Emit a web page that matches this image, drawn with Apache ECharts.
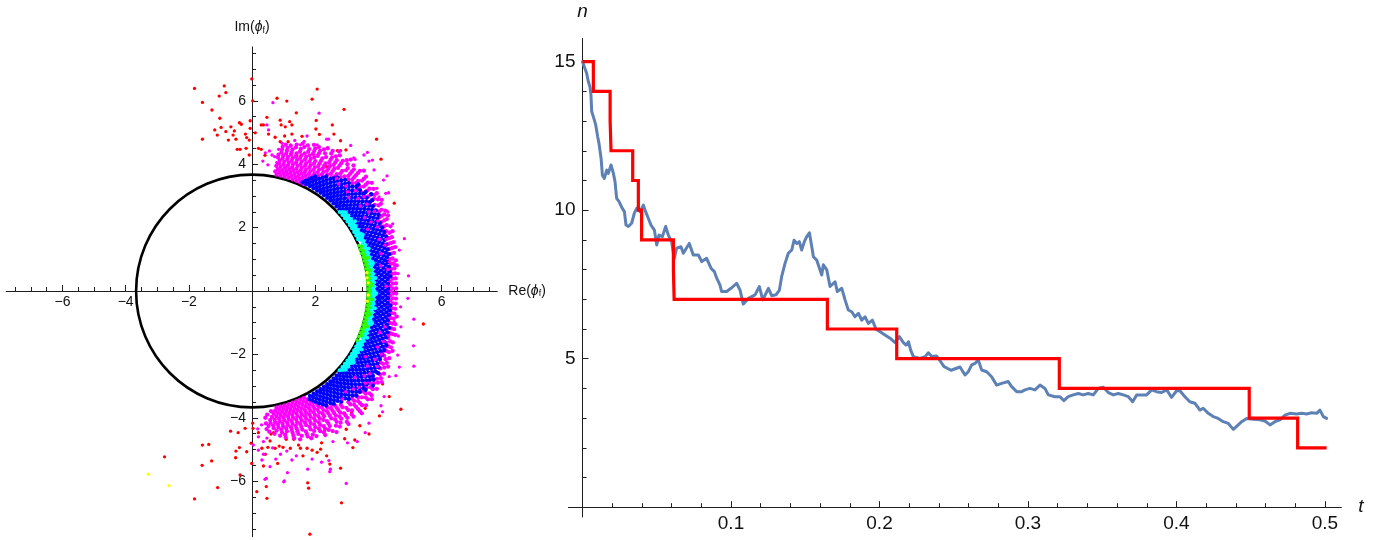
<!DOCTYPE html>
<html>
<head>
<meta charset="utf-8">
<script src="https://cdn.jsdelivr.net/npm/echarts@6/dist/echarts.min.js"></script>
<style>
  html, body { margin: 0; padding: 0; background: #ffffff; }
  #chart { width: 1383px; height: 540px; }
</style>
</head>
<body>
<div id="chart"></div>
<script>
// ---------- left panel: final phases in the complex plane ----------

const circleRadius = 3.67;

// isolated points, [Re, Im]
const redPoints = [
  [-1.57,5.95],[-0.88,6.47],[-0.83,6.26],[-1.04,6.15],[-0.01,6.69],[-1.27,5.71],[-1.02,5.45],[-1.57,4.79],
  [-1.18,5.08],[-1.1,4.92],[-0.98,5.16],[-0.83,5.03],[-0.67,5.18],[-0.56,5.05],[-0.4,5.31],[-0.34,5.26],
  [-0.21,4.95],[-0.17,4.84],[-0.09,4.76],[-0.06,5.37],[-0.06,5.13],[-0.47,4.47],[-0.38,4.47],[-0.19,4.5],
  [-0.09,4.29],[-0.75,4.76],[-0.51,4.79],[-0.6,4.92],[0.1,4.99],[0.29,5.24],[0.36,5.24],[0.47,5.48],
  [0.52,4.95],[0.2,4.5],[0.29,4.47],[0.41,4.28],[0.79,6.08],[1.1,5.99],[0.89,5.39],[0.92,5.24],
  [1.05,5.18],[1.19,5.34],[1.26,5.24],[1.4,5.62],[0.73,4.85],[0.89,4.71],[1.03,4.89],[1.14,4.71],
  [1.26,4.95],[1.9,6.05],[2.06,6.37],[2.03,5.38],[2.02,5.11],[2.13,4.94],[1.58,4.88],[1.42,4.26],
  [1.95,4.31],[2.54,5.24],[2.59,4.95],[2.91,5.73],[2.8,4.74],[2.7,4.43],[2.8,4.43],[2.97,4.45],
  [3.94,4.79],[4.08,4.16],[4.5,2.77],[3.37,3.19],[2.36,3.92],[2.09,4.31],[1.23,4.34],[-1.82,6.39],
  [0.02,6.0],[5.42,-1.04],
  [-1.57,-4.86],[-1.37,-4.84],[-1.28,-5.36],[-1.58,-5.5],[-1.09,-6.2],[-0.68,-4.42],[-0.51,-5.05],
  [-0.52,-5.26],[-0.4,-4.94],[-0.44,-4.47],[-0.22,-4.33],[-0.17,-5.07],[-0.03,-4.8],[0.02,-4.17],
  [0.03,-4.33],[-0.01,-5.44],[-0.38,-5.8],[0.15,-6.33],[0.47,-6.54],[0.45,-6.17],[0.36,-5.52],
  [0.2,-4.47],[0.31,-4.96],[0.42,-5.15],[0.5,-4.93],[0.57,-4.73],[0.6,-4.51],[0.68,-4.47],[0.81,-5.44],
  [0.73,-4.96],[0.86,-4.89],[0.98,-4.93],[1.08,-4.68],[1.21,-4.96],[1.32,-4.68],[1.47,-4.86],
  [1.53,-4.96],[1.61,-5.2],[1.74,-4.96],[1.76,-6.05],[1.79,-6.22],[1.83,-7.67],[1.9,-5.02],[2.06,-5.09],
  [2.17,-4.99],[2.2,-4.79],[2.36,-5.2],[2.46,-5.46],[2.3,-4.41],[2.8,-5.59],[2.83,-6.68],[2.93,-4.66],
  [2.98,-4.36],[3.19,-4.94],[3.25,-4.7],[3.41,-4.25],[3.7,-4.51],[3.58,-3.7],[3.15,-3.84],[2.93,-3.86],
  [4.03,-3.94],[4.34,-3.33],[4.71,-3.73],[4.13,-2.93],[-2.77,-5.23],[-1.82,-6.56]
];

const magentaPoints = [
  [0.66,5.94],[2.12,5.61],[2.36,4.79],[2.42,4.79],[1.74,4.89],[2.06,4.61],[0.47,5.24],[0.52,5.08],
  [0.34,4.1],[0.63,4.29],[0.95,4.66],[1.53,4.61],[3.54,4.29],[3.26,4.15],[3.81,4.13],[3.86,3.82],
  [4.16,3.5],[4.32,3.1],[4.23,3.08],[3.95,3.24],[4.02,2.97],[4.29,2.5],[3.7,4.1],[3.65,4.37],
  [3.12,4.59],[3.22,4.2],[4.27,3.63],[4.45,2.12],[4.82,1.65],[4.95,0.48],[4.34,1.82],[4.5,0.82],
  [4.55,0.24],[4.66,1.29],[1.21,4.61],[0.84,4.47],[0.71,4.24],[1.35,4.75],[0.55,4.42],[1.65,4.72],
  [0.5,3.98],[0.42,4.36],[0.78,4.05],
  [4.93,-0.23],[5.12,-0.89],[5.11,-1.73],[5.12,-2.37],[4.63,-1.42],[4.71,-1.13],[4.61,-2.02],
  [4.66,-2.4],[4.5,-0.97],[4.62,0.55],[4.7,-0.5],
  [0.04,-4.86],[0.31,-5.33],[0.45,-5.91],[0.57,-5.54],[1.02,-5.99],[1.12,-5.73],[1.26,-5.33],
  [1.76,-5.62],[2.46,-5.7],[2.98,-6.07],[2.56,-4.75],[3.02,-4.79],[3.33,-4.75],[3.58,-4.47],
  [3.7,-4.17],[4.08,-3.62],[4.13,-3.81],[4.34,-2.7],[4.55,-2.67],[0.36,-4.75],[0.2,-5.02],
  [1.0,-6.02],[0.41,-5.94],[4.18,-3.33],[2.43,-5.35],[2.48,-5.62],[0.2,-4.6],[0.47,-4.64],
  [0.36,-5.15],[0.65,-4.95],[0.9,-5.15],[1.1,-5.05],[0.75,-5.3],[1.4,-5.2],[1.9,-5.3],[2.2,-5.4],
  [0.3,-4.22],[0.18,-4.35]
];

const yellowPoints = [[-3.28,-5.78],[-2.63,-6.14]];

// dense crescent, written as rings: [radius, angles in degrees]
const magentaRings = [
  [3.75,[64,66,68,70,72,74,76,78,-64,-66,-68,-70,-72,-74,-76,-78]],
  [3.84,[63,65,67,69,71,73,75,77,79,-63,-65,-67,-69,-71,-73,-75,-77,-79,-81]],
  [3.93,[62,64,66,68,70,72,74,76,78,-62,-64,-66,-68,-70,-72,-74,-76,-78,-80,-83]],
  [4.02,[61,63,65,67,69,71,73,75,77,79,-61,-63,-65,-67,-69,-71,-73,-75,-77,-79,-81,-84]],
  [4.11,[60,62,64,66,68,70,72,74,76,78,-60,-62,-64,-66,-68,-70,-72,-74,-76,-78,-80,-82]],
  [4.2,[58,60,62,64,66,68,70,72,74,76,78,-58,-60,-62,-64,-66,-68,-70,-72,-74,-76,-78,-80,-82,-84]],
  [4.29,[-6,-3,0,3,6,57,59,61,63,65,67,69,71,73,75,77,79,-57,-59,-61,-63,-65,-67,-69,-71,-73,-75,-77,-79,-81,-83]],
  [4.38,[-12,-10,-8,-6,-4,-2,0,2,4,6,8,10,12,55,57,59,61,63,65,67,69,71,73,75,77,79,
         -55,-57,-59,-61,-63,-65,-67,-69,-71,-73,-75,-77,-79,-81,-84]],
  [4.47,[-19,-17,-15,-13,-11,-9,-7,-5,-3,-1,1,3,5,7,9,11,13,15,17,19,54,56,58,60,62,64,66,68,70,72,74,76,78,
         -54,-56,-58,-60,-62,-64,-66,-68,-70,-72,-74,-76,-78,-80,-83]],
  [4.56,[-27,-25,-23,-21,-19,-17,-15,-13,-11,-9,-7,-5,-3,-1,1,3,5,7,9,11,13,15,17,19,21,23,25,27,
         52,54,56,58,60,62,64,66,68,70,72,74,76,78,-52,-54,-56,-58,-60,-62,-64,-66,-68,-70,-72,-74,-76,-78,-81]],
  [4.65,[10,12,15,17,19,21,24,26,28,30,33,35,37,40,42,44,47,49,51,53,56,58,60,62,65,67,69,71,74,76,78,
         -10,-13,-15,-17,-20,-22,-24,-26,-29,-31,-33,-36,-38,-40,-43,-45,-47,-49,-52,-54,-56,-58,-61,-63,-65,-67,-70,-72,-74,-77,-79]],
  [4.74,[17,19,21,23,26,28,30,32,35,37,39,41,44,46,48,50,53,55,57,59,62,64,66,68,71,73,75,77,
         -17,-20,-22,-24,-27,-29,-31,-33,-36,-38,-40,-42,-45,-47,-49,-51,-54,-56,-58,-60,-63,-65,-67,-69,-72,-74,-77]],
  [4.83,[23,25,28,30,32,34,37,39,41,43,46,48,50,52,55,57,59,61,64,66,68,70,73,
         -23,-26,-28,-30,-33,-35,-37,-39,-42,-44,-46,-48,-51,-53,-55,-57,-60,-62,-64,-66,-69,-71,-74]],
  [4.92,[29,31,34,36,38,41,43,45,48,50,52,55,57,59,62,64,66,69,71,
         -29,-32,-34,-36,-39,-41,-43,-46,-48,-50,-53,-55,-57,-60,-62,-64,-67,-69,-72]],
  [5.01,[35,38,40,43,45,48,50,53,55,58,60,63,65,67,-35,-38,-41,-43,-46,-48,-51,-53,-56,-58,-61,-63,-66,-68]],
  [5.1,[42,45,48,51,54,57,60,62,-42,-45,-48,-51,-54,-57,-60,-63]],
  [5.19,[47,53,58,-48,-54,-59]]
];

// magenta dots lying among the blue ones
const magentaOverRings = [
  [4.15,[-30,11,28]],
  [4.25,[-40,-18,2,16,33,44]],
  [4.35,[-47,-33,-24,-15,9,22,30,38,46,51]],
  [4.45,[-50,-44,-37,-29,-21,-11,12,19,27,34,41,48,53]],
  [4.55,[-42,-35,-26,-18,21,29,37,44]],
  [4.62,[-39,-31,33,40]]
];

const blueRings = [
  [3.78,[41,43,45,47,49,51,53,55,57,59,61,63,65,-41,-43,-45,-47,-49,-51,-53,-55,-57,-59,-61]],
  [3.86,[40,42,44,46,48,50,52,54,56,58,60,62,64,-40,-42,-44,-46,-48,-50,-52,-54,-56,-58,-60,-62]],
  [3.95,[-61,-59,-57,-55,-53,-51,-49,-47,-45,-43,-41,-39,-37,-35,-33,-31,-29,-27,-25,-23,-21,-19,-17,-15,-13,-11,-9,-7,-5,-3,-1,
         1,3,5,7,9,11,13,15,17,19,21,23,25,27,29,31,33,35,37,39,41,43,45,47,49,51,53,55,57,59,61,63]],
  [4.04,[-60,-58,-56,-54,-52,-50,-48,-46,-44,-42,-40,-38,-36,-34,-32,-30,-28,-26,-24,-22,-20,-18,-16,-14,-12,-10,-8,-6,-4,-2,0,
         2,4,6,8,10,12,14,16,18,20,22,24,26,28,30,32,34,36,38,40,42,44,46,48,50,52,54,56,58,60,62]],
  [4.13,[-59,-57,-55,-53,-51,-49,-47,-45,-43,-41,-39,-37,-35,-33,-31,-29,-27,-25,-23,-21,-19,-17,-15,-13,-11,-9,-7,-5,-3,-1,
         1,3,5,7,9,11,13,15,17,19,21,23,25,27,29,31,33,35,37,39,41,43,45,47,49,51,53,55,57,59,61]],
  [4.22,[-58,-56,-54,-52,-50,-48,-46,-44,-42,-40,-38,-36,-34,-32,-30,-28,-26,-24,-22,-20,-18,-16,-14,-12,-10,-8,-6,-4,-2,0,
         2,4,6,8,10,12,14,16,18,20,22,24,26,28,30,32,34,36,38,40,42,44,46,48,50,52,54,56,58]],
  [4.31,[-57,-55,-53,-51,-49,-47,-45,-43,-41,-39,-37,-35,-33,-31,-29,-27,-25,-23,-21,-19,-17,-15,-13,-11,-9,-7,-5,-3,-1,
         1,3,5,7,9,11,13,15,17,19,21,23,25,27,29,31,33,35,37,39,41,43,45,47,49,51,53,55,57]],
  [4.4,[-54,-52,-50,-48,-46,-44,-42,-40,-38,-36,-34,-32,-30,-28,-26,-24,-22,-20,-18,-16,-14,-12,-10,-8,-6,
        6,8,10,12,14,16,18,20,22,24,26,28,30,32,34,36,38,40,42,44,46,48,50,52,54]],
  [4.49,[-51,-49,-47,-45,-43,-41,-39,-37,-35,-33,-31,-29,-27,-25,-23,-21,-19,-17,-15,
         15,17,19,21,23,25,27,29,31,33,35,37,39,41,43,45,47,49,51,53]],
  [4.58,[-48,-46,-44,-42,-40,-38,-36,-34,-32,-30,-28,-26,-24,-22,22,24,26,28,30,32,34,36,38,40,42,44,46,48,50]],
  [4.67,[-45,-43,-41,-39,-37,-35,-33,-31,31,33,35,37,39,41,43,45]],
  [4.76,[-41,-36,-33,37,41,45]],
  [4.85,[-38,39]]
];

const cyanRings = [
  [3.73,[26,28,30,32,34,36,38,40,42,-26,-28,-30,-32,-34,-36,-38,-40,-42]],
  [3.8,[-41,-39,-37,-35,-33,-31,-29,-27,-25,-23,-21,-19,-17,-15,-13,-11,-9,-7,-5,-3,-1,
        1,3,5,7,9,11,13,15,17,19,21,23,25,27,29,31,33,35,37,39,41]],
  [3.87,[-40,-38,-36,-34,-32,-30,-28,-26,-24,-22,-20,-18,-16,-14,-12,-10,-8,-6,-4,-2,0,
         2,4,6,8,10,12,14,16,18,20,22,24,26,28,30,32,34,36,38,40]],
  [3.93,[-35,-28,-22,-15,-8,-1,6,13,20,27,34]]
];

const greenRings = [
  [3.67,[-25,-23,-21,-19,-17,-15,-13,-11,-9,-7,-5,-3,-1,1,3,5,7,9,11,13,15,17,19,21,23]],
  [3.74,[-22,-20,-18,-16,-14,-12,-10,-8,-6,-4,-2,0,2,4,6,8,10,12,14,16,18,20,22]],
  [3.81,[-17,-11,-4,3,10,16]]
];

const yellowRings = [
  [3.68,[9,4,-2]],
  [3.66,[6.5,-5]]
];

// axis ticks of the phase plane
const phaseMajorTicks = [-6, -4, -2, 2, 4, 6];
const phaseMinorTicks = [-7.5,-7,-6.5,-5.5,-5,-4.5,-3.5,-3,-2.5,-1.5,-1,-0.5,0.5,1,1.5,2.5,3,3.5,4.5,5,5.5,6.5,7,7.5];

// ---------- right panel: n(t) ----------

// noisy trajectory, [t, n]
const walk = [
  [0,15],[0.0028,14.61],[0.0039,14.33],[0.005,14.16],[0.0057,13.88],[0.0062,13.32],[0.0073,13.15],[0.0089,12.87],
  [0.0102,12.48],[0.0111,12.25],[0.0125,11.75],[0.0134,11.18],[0.0147,11.07],[0.0163,11.35],[0.0174,11.24],
  [0.0192,11.52],[0.0208,11.24],[0.0219,10.96],[0.023,10.4],[0.0246,10.29],[0.0268,10.06],[0.0282,9.95],
  [0.0293,9.5],[0.0309,9.45],[0.0331,9.56],[0.0349,9.9],[0.0365,10.06],[0.0387,9.95],[0.041,10.17],
  [0.0425,9.95],[0.0443,9.73],[0.0461,9.5],[0.0484,9.33],[0.05,8.83],[0.0515,9.16],[0.0538,9.11],[0.056,9.45],
  [0.0578,9.16],[0.06,8.94],[0.0618,8.38],[0.0634,8.72],[0.0663,8.77],[0.0679,8.55],[0.0719,8.88],[0.0746,8.49],
  [0.078,8.49],[0.0803,8.27],[0.0836,8.38],[0.0866,8.04],[0.0888,7.93],[0.0904,7.71],[0.0926,7.48],[0.0937,7.26],
  [0.0971,7.26],[0.1,7.37],[0.1038,7.54],[0.1061,7.31],[0.1083,6.84],[0.1117,7.03],[0.1162,7.15],[0.1191,7.43],
  [0.1214,6.98],[0.1252,7.37],[0.1274,7.12],[0.1303,7.15],[0.1326,7.31],[0.1341,7.76],[0.1364,8.21],[0.1386,8.55],
  [0.1409,8.66],[0.1425,8.99],[0.1443,8.88],[0.146,8.94],[0.1476,8.66],[0.1494,8.94],[0.151,9.11],[0.1528,9.24],
  [0.1544,8.77],[0.1555,8.43],[0.1577,8.32],[0.1611,7.82],[0.1622,8.16],[0.1645,7.99],[0.1667,7.43],[0.1701,7.59],
  [0.1716,7.26],[0.1746,7.37],[0.1768,6.98],[0.179,6.64],[0.1813,6.58],[0.1835,6.41],[0.1858,6.53],[0.188,6.3],
  [0.1903,6.41],[0.1925,6.19],[0.1952,6.3],[0.1977,5.99],[0.2004,5.91],[0.2037,5.8],[0.2071,5.69],[0.2105,5.54],
  [0.2134,5.74],[0.2161,5.54],[0.2179,5.46],[0.2195,5.57],[0.221,5.29],[0.2228,5.07],[0.2273,5.01],[0.2307,5.07],
  [0.2329,5.2],[0.2352,5.07],[0.2385,5.09],[0.2435,4.73],[0.2482,4.61],[0.2542,4.72],[0.2576,4.45],[0.2598,4.56],
  [0.2621,4.79],[0.2643,4.84],[0.2665,4.96],[0.2688,4.62],[0.2722,4.56],[0.2755,4.39],[0.2789,4.11],[0.2823,4.17],
  [0.2867,4.23],[0.289,4.06],[0.2924,3.89],[0.2957,3.89],[0.298,3.95],[0.3013,4.0],[0.3047,3.95],[0.3081,4.11],
  [0.3114,4.0],[0.3137,3.78],[0.3182,3.72],[0.3215,3.72],[0.3242,3.59],[0.3271,3.72],[0.3305,3.78],[0.3339,3.83],
  [0.3372,3.78],[0.3406,3.83],[0.344,3.78],[0.3474,4.0],[0.3507,4.04],[0.3541,3.86],[0.3575,3.78],[0.3608,3.83],
  [0.3642,3.78],[0.3676,3.72],[0.3705,3.55],[0.3732,3.78],[0.3765,3.78],[0.3799,3.78],[0.3833,3.95],[0.3866,3.89],
  [0.39,3.86],[0.3934,3.95],[0.3967,3.7],[0.4001,3.92],[0.4023,3.92],[0.4057,3.72],[0.409,3.55],[0.4124,3.5],
  [0.4158,3.27],[0.418,3.33],[0.4214,3.16],[0.4248,3.05],[0.4281,2.99],[0.4315,2.88],[0.4349,2.82],[0.4383,2.62],
  [0.4416,2.77],[0.4439,2.88],[0.4473,2.99],[0.4517,2.96],[0.4562,2.94],[0.4596,2.9],[0.463,2.77],[0.4663,2.88],
  [0.4697,2.94],[0.4731,3.1],[0.4764,3.16],[0.4809,3.14],[0.4843,3.16],[0.4876,3.14],[0.491,3.18],[0.4944,3.16],
  [0.4966,3.27],[0.4989,3.05],[0.5011,2.99]
];

// integer staircase, [t where the level starts, level]
const levels = [
  [0,15],[0.0073,14],[0.0186,13],[0.0192,12],[0.0338,11],[0.0376,10],[0.0398,9],[0.0612,8],[0.0617,7],
  [0.1649,6],[0.2116,5],[0.3211,4],[0.449,3],[0.4816,2],[0.5011,2]
];

const tMajorTicks = [0.1, 0.2, 0.3, 0.4, 0.5];
const tMinorTicks = [0.02,0.04,0.06,0.08,0.12,0.14,0.16,0.18,0.22,0.24,0.26,0.28,0.32,0.34,0.36,0.38,0.42,0.44,0.46,0.48];
const nMajorTicks = [5, 10, 15];
const nMinorTicks = [1,2,3,4,6,7,8,9,11,12,13,14];

// ---------- build ----------

function ringsToPoints(rings) {
  const pts = [];
  rings.forEach(([r, angles]) => {
    angles.forEach(a => {
      const rad = a * Math.PI / 180;
      pts.push([r * Math.cos(rad), r * Math.sin(rad)]);
    });
  });
  return pts;
}

const FONT = '"Liberation Sans", Arial, sans-serif';
const AXIS_COLOR = '#1e1e1e';
const TEXT_COLOR = '#111111';
const minusFmt = v => (v < 0 ? '\u2212' + (-v) : String(v));

const phaseX = [-7.78, 7.76];
const phaseY = [-7.75, 7.7];
const tRange = [-0.0095, 0.511];
const nRange = [-0.33, 15.78];

const grids = [
  { left: 6.2, top: 46.9, width: 491.1, height: 489.8 },
  { left: 568.4, top: 38.5, width: 772.9, height: 478.5 }
];

// axes cross at the origin: shift each axis from the grid edge to the other axis's zero
function axis(dim, opts) {
  const g = grids[opts.grid];
  const other = opts.otherRange;
  const span = dim === 'x' ? g.height : g.width;
  const offset = -span * (0 - other[0]) / (other[1] - other[0]);
  const major = opts.major;
  const cfg = {
    type: 'value',
    gridIndex: opts.grid,
    min: opts.range[0],
    max: opts.range[1],
    position: dim === 'x' ? 'bottom' : 'left',
    offset: offset,
    splitLine: { show: false },
    axisLine: {
      show: major, onZero: false,
      lineStyle: { color: AXIS_COLOR, width: 1 }
    },
    axisTick: {
      show: true, inside: true, length: opts.tickLen,
      customValues: opts.ticks,
      lineStyle: { color: AXIS_COLOR, width: 1 }
    },
    axisLabel: major ? {
      show: true, customValues: opts.ticks, formatter: minusFmt,
      margin: opts.labelMargin, color: TEXT_COLOR, fontSize: opts.fontSize, fontFamily: FONT
    } : { show: false },
    z: 1
  };
  if (opts.name) {
    cfg.name = opts.name;
    cfg.nameLocation = 'end';
    cfg.nameGap = opts.nameGap;
    cfg.nameTextStyle = opts.nameStyle;
  }
  return cfg;
}

const phaseNameStyle = {
  color: TEXT_COLOR, fontSize: 14, fontFamily: FONT, lineHeight: 15,
  rich: {
    p: { fontSize: 14, fontStyle: 'italic', fontFamily: FONT, color: TEXT_COLOR, lineHeight: 15 },
    s: { fontSize: 9, fontFamily: FONT, color: TEXT_COLOR, verticalAlign: 'bottom', lineHeight: 9, padding: [6, 0, 0, 0] }
  }
};
const timeNameStyle = { color: TEXT_COLOR, fontSize: 19, fontStyle: 'italic', fontFamily: FONT };

function scatter(points, color, size) {
  return {
    type: 'scatter', xAxisIndex: 0, yAxisIndex: 0, data: points,
    symbol: 'circle', symbolSize: size, silent: true,
    progressive: 0, large: false,
    itemStyle: { color: color, opacity: 1 }
  };
}

const option = {
  animation: false,
  backgroundColor: '#ffffff',
  grid: grids.map(g => Object.assign({ containLabel: false, outerBoundsMode: 'none' }, g)),
  xAxis: [
    axis('x', { grid: 0, range: phaseX, otherRange: phaseY, major: true, ticks: phaseMajorTicks, tickLen: 6,
      labelMargin: 4, fontSize: 14, name: 'Re({p|ϕ}{s|f})', nameGap: 11, nameStyle: phaseNameStyle }),
    axis('x', { grid: 0, range: phaseX, otherRange: phaseY, major: false, ticks: phaseMinorTicks, tickLen: 4 }),
    axis('x', { grid: 1, range: tRange, otherRange: nRange, major: true, ticks: tMajorTicks, tickLen: 6,
      labelMargin: 7, fontSize: 19, name: 't', nameGap: 17, nameStyle: timeNameStyle }),
    axis('x', { grid: 1, range: tRange, otherRange: nRange, major: false, ticks: tMinorTicks, tickLen: 4 })
  ],
  yAxis: [
    axis('y', { grid: 0, range: phaseY, otherRange: phaseX, major: true, ticks: phaseMajorTicks, tickLen: 6,
      labelMargin: 6, fontSize: 14, name: 'Im({p|ϕ}{s|f})', nameGap: 12, nameStyle: phaseNameStyle }),
    axis('y', { grid: 0, range: phaseY, otherRange: phaseX, major: false, ticks: phaseMinorTicks, tickLen: 4 }),
    axis('y', { grid: 1, range: nRange, otherRange: tRange, major: true, ticks: nMajorTicks, tickLen: 6,
      labelMargin: 7, fontSize: 19, name: 'n', nameGap: 17, nameStyle: timeNameStyle }),
    axis('y', { grid: 1, range: nRange, otherRange: tRange, major: false, ticks: nMinorTicks, tickLen: 4 })
  ],
  series: [
    {
      type: 'custom', coordinateSystem: 'cartesian2d', xAxisIndex: 0, yAxisIndex: 0,
      data: [[0, 0, circleRadius]], clip: false, silent: true,
      renderItem: function (params, api) {
        const c = api.coord([api.value(0), api.value(1)]);
        const s = api.size([api.value(2), api.value(2)]);
        return {
          type: 'ellipse',
          shape: { cx: c[0], cy: c[1], rx: s[0], ry: s[1] },
          style: { fill: 'none', stroke: '#000000', lineWidth: 2.6 }
        };
      }
    },
    scatter(redPoints, '#ff0000', 3.3),
    scatter(magentaPoints, '#ff00ff', 3.3),
    scatter(ringsToPoints(magentaRings), '#ff00ff', 4.3),
    scatter(ringsToPoints(blueRings), '#0000ff', 4.3),
    scatter(ringsToPoints(magentaOverRings), '#ff00ff', 3.6),
    scatter(ringsToPoints(cyanRings), '#00ffff', 4),
    scatter(ringsToPoints(greenRings), '#2bff00', 3.8),
    scatter(ringsToPoints(yellowRings).concat(yellowPoints), '#ffff00', 3.4),
    {
      type: 'line', xAxisIndex: 2, yAxisIndex: 2, data: walk,
      showSymbol: false, symbol: 'none', silent: true,
      lineStyle: { color: '#5e81b5', width: 3, join: 'round', cap: 'round' }
    },
    {
      type: 'line', xAxisIndex: 2, yAxisIndex: 2, data: levels, step: 'end',
      showSymbol: false, symbol: 'none', silent: true,
      lineStyle: { color: '#ff0000', width: 3.2, join: 'miter' }
    }
  ]
};

const chart = echarts.init(document.getElementById('chart'), null, { renderer: 'canvas' });
chart.setOption(option);
</script>
</body>
</html>
